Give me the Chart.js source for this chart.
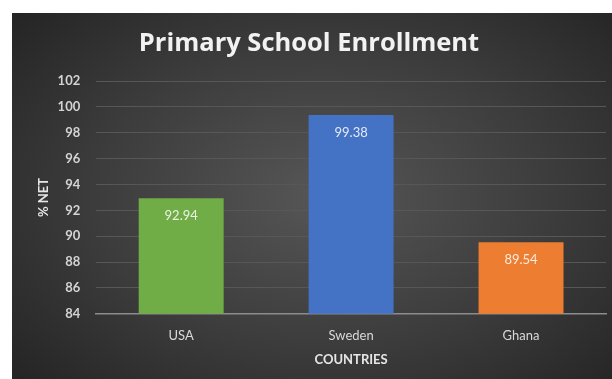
<!DOCTYPE html>
<html>
<head>
<meta charset="utf-8">
<script src="https://cdn.jsdelivr.net/npm/chart.js@4.4.1/dist/chart.umd.min.js"></script>
<style>
  html, body { margin: 0; padding: 0; background: #ffffff; }
  #wrap {
    position: absolute;
    left: 12px; top: 13px;
    width: 600px; height: 366px;
    background: radial-gradient(ellipse 70% 75% at 52% 50%, #565656 0%, #3c3c3c 55%, #242424 100%);
  }
</style>
</head>
<body>
<div id="wrap"><canvas id="enrollment"></canvas></div>
<script>
const countries = ['USA', 'Sweden', 'Ghana'];
const netEnrollment = [92.94, 99.38, 89.54];
const barColors = ['#70ad47', '#4472c4', '#ed7d31'];
const yTicks = [84, 86, 88, 90, 92, 94, 96, 98, 100, 102];

// writes each bar's value just under its top edge
const valueLabels = {
    id: 'valueLabels',
    afterDatasetsDraw(chart) {
        const ctx = chart.ctx;
        const meta = chart.getDatasetMeta(0);
        ctx.save();
        ctx.font = '13px Lato';
        ctx.fillStyle = 'rgba(255,255,255,0.85)';
        ctx.textAlign = 'center';
        ctx.textBaseline = 'middle';
        meta.data.forEach((bar, i) => {
            ctx.fillText(netEnrollment[i].toFixed(2), bar.x, bar.y + 18);
        });
        ctx.restore();
    }
};

document.addEventListener('DOMContentLoaded', function() {
    const ctx = document.getElementById('enrollment').getContext('2d');
    new Chart(ctx, {
        type: 'bar',
        data: {
            labels: countries,
            datasets: [{
                data: netEnrollment,
                backgroundColor: barColors,
                borderWidth: 0,
                barPercentage: 1,
                categoryPercentage: 0.5
            }]
        },
        options: {
            responsive: true,
            maintainAspectRatio: false,
            animation: false,
            layout: { padding: { left: 0, right: 6, top: 0, bottom: 0 } },
            plugins: {
                legend: { display: false },
                tooltip: { enabled: false },
                title: {
                    display: true,
                    text: 'Primary School Enrollment',
                    color: '#f2f2f2',
                    font: { family: 'Open Sans', size: 25.5, weight: 'bold' },
                    padding: { top: 15, bottom: 22.5 }
                }
            },
            scales: {
                x: {
                    grid: { display: false, drawTicks: false },
                    border: { color: '#8c8c8c', width: 1.5 },
                    ticks: { color: '#d9d9d9', font: { family: 'Lato', size: 13 }, padding: 14 },
                    title: {
                        display: true,
                        text: 'COUNTRIES',
                        color: '#e6e6e6',
                        font: { family: 'Lato', size: 13, weight: 'bold' },
                        padding: { top: -5, bottom: 11 }
                    }
                },
                y: {
                    min: 84,
                    max: 102,
                    afterBuildTicks: axis => { axis.ticks = yTicks.map(v => ({ value: v })); },
                    grid: { color: '#575757', lineWidth: 1, drawTicks: false },
                    border: { display: false },
                    ticks: { color: '#d4d4d4', font: { family: 'Lato', size: 13, weight: 'bold' }, padding: 16 },
                    title: {
                        display: true,
                        text: '% NET',
                        color: '#e6e6e6',
                        font: { family: 'Lato', size: 13, weight: 'bold' },
                        padding: { top: 24, bottom: -10 }
                    }
                }
            }
        },
        plugins: [valueLabels]
    });
});
</script>
</body>
</html>
